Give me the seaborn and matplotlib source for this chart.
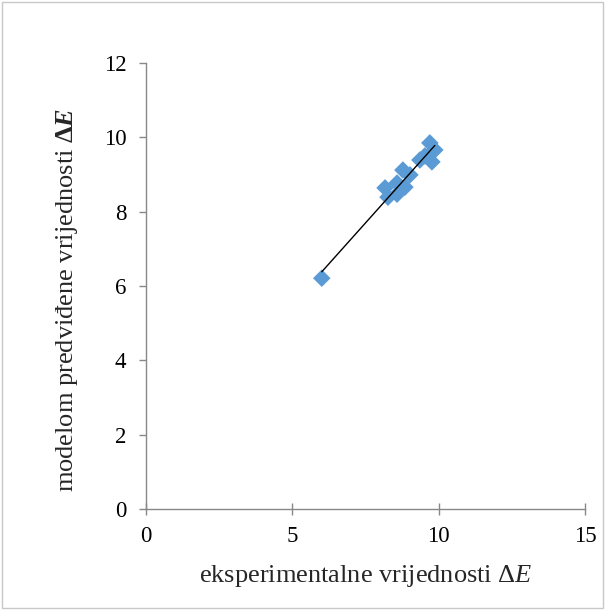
import numpy as np
import pandas as pd
import matplotlib
matplotlib.use("Agg")
import matplotlib.pyplot as plt
import seaborn as sns

# experimental vs model-predicted dE values
exp_dE = [6.01, 8.17, 8.27, 8.58, 8.58, 8.78, 8.85, 9.02, 9.36, 9.53, 9.70, 9.77, 9.87]
pred_dE = [6.21, 8.64, 8.39, 8.77, 8.47, 9.12, 8.66, 8.99, 9.39, 9.50, 9.85, 9.34, 9.66]
x_ticks = [0, 5, 10, 15]
y_ticks = [0, 2, 4, 6, 8, 10, 12]

df = pd.DataFrame({"exp": exp_dE, "pred": pred_dE})

sns.set_style("white")
plt.rcParams["font.family"] = ["Liberation Serif", "DejaVu Serif"]
plt.rcParams["mathtext.fontset"] = "custom"
plt.rcParams["mathtext.rm"] = "Liberation Serif"
plt.rcParams["mathtext.it"] = "Liberation Serif:italic"
plt.rcParams["mathtext.bf"] = "Liberation Serif:bold"
plt.rcParams["mathtext.bfit"] = "Liberation Serif:bold:italic"

fig = plt.figure(figsize=(6.05, 6.10), dpi=100)
ax = fig.add_axes([0.241, 0.1656, 0.726, 0.7311])

sns.scatterplot(data=df, x="exp", y="pred", marker="D", s=80, color="#5B9BD5",
                edgecolor="none", ax=ax, zorder=2)

# linear trendline across the data range
k, b = np.polyfit(df["exp"], df["pred"], 1)
xs = np.array([df["exp"].min(), df["exp"].max()])
ax.plot(xs, k * xs + b, color="black", lw=1.0, zorder=3)

ax.set_xlim(0, 15)
ax.set_ylim(0, 12)
ax.set_xticks(x_ticks)
ax.set_yticks(y_ticks)
ax.tick_params(axis="both", labelsize=16.5, colors="#888888", labelcolor="black",
               width=1, bottom=True, left=True)
ax.tick_params(axis="y", direction="out", length=5, pad=9)
ax.tick_params(axis="x", direction="inout", length=8, pad=8)
for s in ["top", "right"]:
    ax.spines[s].set_visible(False)
for s in ["left", "bottom"]:
    ax.spines[s].set_color("#888888")
    ax.spines[s].set_linewidth(1)

ax.set_xlabel("eksperimentalne vrijednosti Δ$E$", fontsize=19, labelpad=12)
ax.set_ylabel(r"modelom predviđene vrijednosti $\mathbf{\Delta}\mathbfit{E}$", fontsize=19)
ax.yaxis.set_label_coords(-0.15, 0.47)

# chart area border
fig.patches.append(plt.Rectangle((0.003, 0.003), 0.994, 0.994, transform=fig.transFigure,
                                 fill=False, edgecolor="#c8c8c8", lw=1))

fig.savefig("out.png", dpi=100)
